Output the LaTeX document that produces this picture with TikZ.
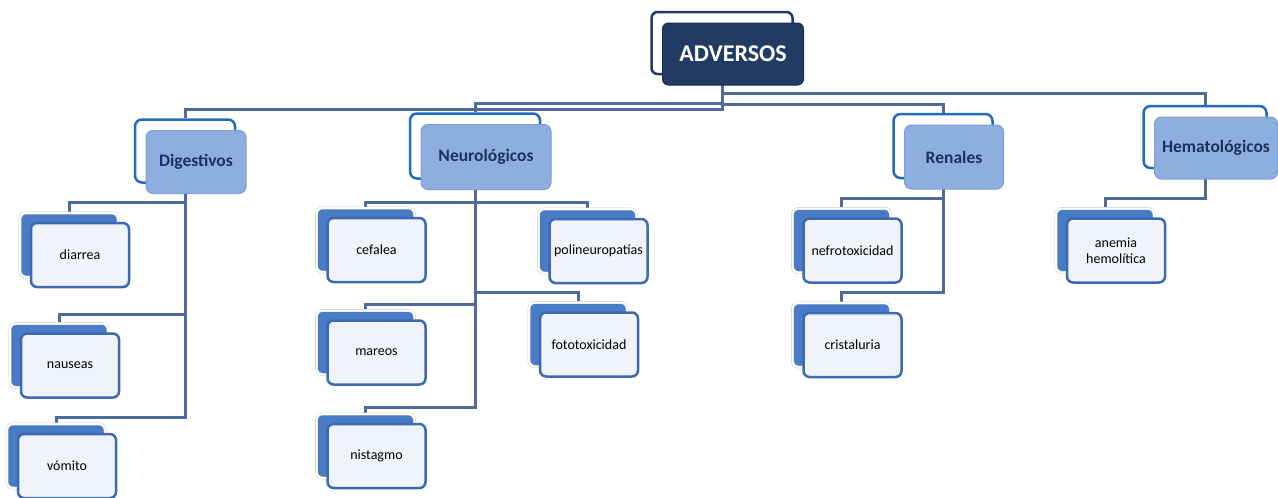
\documentclass[tikz,border=0pt]{standalone}
\usepackage{fontspec}
\setmainfont{Carlito}
\usetikzlibrary{calc,backgrounds}

\definecolor{navy}{RGB}{33,59,99}
\definecolor{navyline}{RGB}{24,44,76}
\definecolor{frameblue}{RGB}{31,108,190}
\definecolor{grouplight}{RGB}{142,174,224}
\definecolor{groupline}{RGB}{125,158,212}
\definecolor{grouptext}{RGB}{27,50,92}
\definecolor{itemblue}{RGB}{74,123,198}
\definecolor{itemline}{RGB}{60,106,178}
\definecolor{itemfill}{RGB}{240,244,250}
\definecolor{linkblue}{RGB}{78,106,152}

\tikzset{
  topback/.style={draw=navy, line width=2.5pt, fill=white, rounded corners=6pt,
    minimum width=141pt, minimum height=62pt},
  topbox/.style={draw=navyline, line width=1pt, fill=navy, rounded corners=6pt,
    minimum width=141pt, minimum height=62pt, text=white,
    font=\fontsize{24}{28}\selectfont\bfseries},
  groupback/.style={draw=frameblue, line width=2.5pt, fill=white, rounded corners=7pt},
  groupbox/.style={draw=groupline, line width=1pt, fill=grouplight, rounded corners=7pt,
    text=grouptext, font=\fontsize{17.5}{20}\selectfont\bfseries},
  itemback/.style={fill=itemblue, draw=gray!45, double=white, double distance=2pt,
    rounded corners=6pt, minimum width=98pt, minimum height=64pt},
  itembox/.style={fill=itemfill, draw=itemline, line width=2.5pt, rounded corners=6pt,
    minimum width=98pt, minimum height=64pt, align=center, inner sep=3pt,
    font=\fontsize{14}{15.5}\selectfont},
  link/.style={draw=linkblue, line width=3pt},
  elbow/.style={to path={(\tikztostart) |- ($(\tikztotarget)+(0,-#1)$) -- (\tikztotarget)}},
  elbow/.default=8
}

% group box: name, back centre, width, height, text
\newcommand{\groupnode}[5]{%
  \node[groupback, minimum width=#3pt, minimum height=#4pt] (#1B) at (#2) {};
  \node[groupbox, minimum width=#3pt, minimum height=#4pt] (#1) at ([shift={(11,11)}]#1B) {#5};}
% effect box: name, back centre, text
\newcommand{\effectnode}[3]{%
  \node[itemback] (#1B) at (#2) {};
  \node[itembox] (#1) at ([shift={(11,10)}]#1B) {#3};}

\begin{document}
\begin{tikzpicture}[x=1pt, y=-1pt]
  \useasboundingbox (0,0) rectangle (1278,498);
  % Adversos:
  %   the root of the tree
  \node[topback] (AdversosB) at (722,43) {};
  \node[topbox] (Adversos) at ([shift={(11,11)}]AdversosB) {ADVERSOS};
  % Digestivos:
  %   three effects stacked on the left
  \groupnode{Digestivos}{185,151}{100}{63}{Digestivos}
  \effectnode{Diarrea}{69,245}{diarrea}
  \effectnode{Nauseas}{59,355.5}{nauseas}
  \effectnode{Vomito}{56,456}{vómito}
  % Neurologicos:
  %   left column and right column
  \groupnode{Neurologicos}{475,146}{130}{65}{Neurológicos}
  \effectnode{Cefalea}{365.5,240}{cefalea}
  \effectnode{Mareos}{365.5,342.5}{mareos}
  \effectnode{Nistagmo}{365.5,446}{nistagmo}
  \effectnode{Polineuropatias}{587.5,241}{polineuropatías}
  \effectnode{Fototoxicidad}{578,334.5}{fototoxicidad}
  % Renales:
  \groupnode{Renales}{943,146}{99}{64}{Renales}
  \effectnode{Nefrotoxicidad}{841.5,240.5}{nefrotoxicidad}
  \effectnode{Cristaluria}{841.5,335}{cristaluria}
  % Hematologicos:
  \groupnode{Hematologicos}{1205,137}{123}{62}{Hematológicos}
  \effectnode{Anemia}{1105,240.5}{anemia\\hemolítica}

  \begin{scope}[on background layer]
    \draw[link] (AdversosB.center) to[elbow=8.5] (DigestivosB.north);
    \draw[link] (AdversosB.center) to[elbow=8.5] (NeurologicosB.north);
    \draw[link] (AdversosB.center) to[elbow=8] (RenalesB.north);
    \draw[link] (AdversosB.center) to[elbow=11] (HematologicosB.north);
    \draw[link] (DigestivosB.center) to[elbow=10] (DiarreaB.north);
    \draw[link] (DigestivosB.center) to[elbow=8.5] (NauseasB.north);
    \draw[link] (DigestivosB.center) to[elbow=6] (VomitoB.north);
    \draw[link] (NeurologicosB.center) to[elbow=5] (CefaleaB.north);
    \draw[link] (NeurologicosB.center) to[elbow=5.5] (MareosB.north);
    \draw[link] (NeurologicosB.center) to[elbow=6] (NistagmoB.north);
    \draw[link] (NeurologicosB.center) to[elbow=6] (PolineuropatiasB.north);
    \draw[link] (NeurologicosB.center) to[elbow=10] (FototoxicidadB.north);
    \draw[link] (RenalesB.center) to[elbow=9.5] (NefrotoxicidadB.north);
    \draw[link] (RenalesB.center) to[elbow=10] (CristaluriaB.north);
    \draw[link] (HematologicosB.center) to[elbow=9.5] (AnemiaB.north);
  \end{scope}
\end{tikzpicture}
\end{document}
